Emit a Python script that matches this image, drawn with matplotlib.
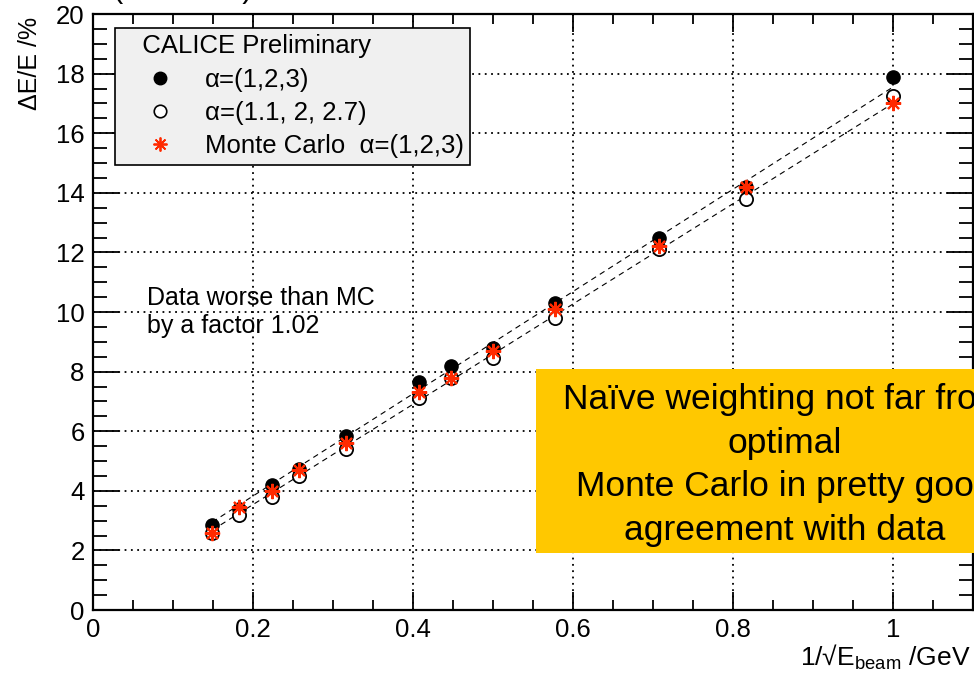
import matplotlib
matplotlib.use("Agg")
import matplotlib.pyplot as plt
from matplotlib.lines import Line2D
from matplotlib.patches import Rectangle
from matplotlib.ticker import MultipleLocator

plt.rcParams["font.family"] = ["Liberation Sans", "DejaVu Sans"]
plt.rcParams["mathtext.fontset"] = "custom"
plt.rcParams["mathtext.rm"] = "Liberation Sans"

# ---- data (1/sqrt(E_beam), resolution in %) ---------------------------------
inv_sqrt_e = [0.149, 0.183, 0.224, 0.258, 0.316, 0.408, 0.447, 0.500, 0.577, 0.707, 0.816, 1.000]
res_alpha123 = [2.85, 3.40, 4.20, 4.72, 5.85, 7.65, 8.20, 8.80, 10.30, 12.50, 14.20, 17.90]
res_alpha_opt = [2.60, 3.20, 3.80, 4.50, 5.40, 7.10, 7.80, 8.45, 9.80, 12.10, 13.80, 17.25]
res_mc = [2.60, 3.45, 4.00, 4.70, 5.60, 7.30, 7.80, 8.70, 10.10, 12.20, 14.20, 17.00]

fit_x = [0.149, 1.0]
fit_data = [2.95, 17.55]
fit_mc = [2.68, 17.00]

RED = "#ff2a00"

fig = plt.figure(figsize=(9.74, 6.79), dpi=100)
ax = fig.add_axes([93 / 974, 1 - 610 / 679, 880 / 974, 596 / 679])

ax.plot(fit_x, fit_data, ls=(0, (5, 4)), color="black", lw=0.8, zorder=2)
ax.plot(fit_x, fit_mc, ls=(0, (5, 4)), color="black", lw=0.8, zorder=2)

ax.plot(inv_sqrt_e, res_alpha123, "o", color="black", ms=9.5, ls="none", zorder=3)
ax.plot(inv_sqrt_e, res_alpha_opt, "o", mfc="white", mec="black", mew=1.3, ms=9.5, ls="none", zorder=4)
ax.plot(inv_sqrt_e, res_mc, marker=(8, 2, 0), color=RED, mew=1.5, ms=11, ls="none", zorder=5)

ax.set_ylim(0, 20)
ax.xaxis.set_minor_locator(MultipleLocator(0.05))
ax.yaxis.set_major_locator(MultipleLocator(2))
ax.yaxis.set_minor_locator(MultipleLocator(0.5))
ax.set_xticks([0, 0.2, 0.4, 0.6, 0.8, 1.0])
ax.set_xticklabels(["0", "0.2", "0.4", "0.6", "0.8", "1"])
ax.set_xlim(0, 1.1)

ax.tick_params(which="both", direction="in", top=True, right=True, width=1.3, labelsize=18.5)
ax.tick_params(axis="y", which="major", length=19, pad=6)
ax.tick_params(axis="y", which="minor", length=10)
ax.tick_params(axis="x", which="major", length=13, pad=6)
ax.tick_params(axis="x", which="minor", length=7)
for s in ax.spines.values():
    s.set_linewidth(1.6)
ax.grid(True, which="major", ls=(0, (1, 2.5)), color="black", lw=1.3)
ax.set_axisbelow(True)

handles = [
    Line2D([], [], marker="o", color="black", ls="none", ms=9),
    Line2D([], [], marker="o", mfc="white", mec="black", mew=1.2, ls="none", ms=9),
    Line2D([], [], marker=(8, 2, 0), color=RED, mew=1.3, ls="none", ms=10),
]
leg = ax.legend(handles, ["α=(1,2,3)", "α=(1.1, 2, 2.7)", "Monte Carlo  α=(1,2,3)"],
                title="   CALICE Preliminary", title_fontsize=18.5, fontsize=18.5,
                loc="upper left", bbox_to_anchor=(22 / 880, 1 - 14 / 596),
                frameon=True, fancybox=False, edgecolor="black", facecolor="#f0f0f0",
                framealpha=1, handlelength=3.0, handletextpad=0.25, borderpad=0.25,
                labelspacing=0.36, alignment="left", borderaxespad=0)
leg.get_frame().set_linewidth(1.2)
leg.set_zorder(6)

ax.text(0.0675, 10.0, "Data worse than MC\nby a factor 1.02", fontsize=18,
        va="center", ha="left", linespacing=1.2, zorder=6)

# yellow summary box, running off the right edge
fig.patches.append(Rectangle((536 / 974, 1 - 553 / 679), 0.6, 184 / 679,
                             transform=fig.transFigure, facecolor="#ffc800",
                             edgecolor="none", zorder=10))
fig.text(785 / 974, 1 - 465 / 679,
         "Naïve weighting not far from\noptimal\nMonte Carlo in pretty good\nagreement with data",
         ha="center", va="center", fontsize=25.5, linespacing=1.4, zorder=11)

fig.text(30 / 974, 1 - 17 / 679, "ΔE/E /%", rotation=90, ha="center", va="top", fontsize=18)
fig.text(971 / 974, 1 - 665 / 679, "1/√E$_{\\rm beam}$ /GeV", ha="right", va="baseline", fontsize=19)
fig.text(183 / 974, 1 + 26 / 679, "(              )", ha="center", va="top", fontsize=22)

fig.savefig("out.png", dpi=100)
